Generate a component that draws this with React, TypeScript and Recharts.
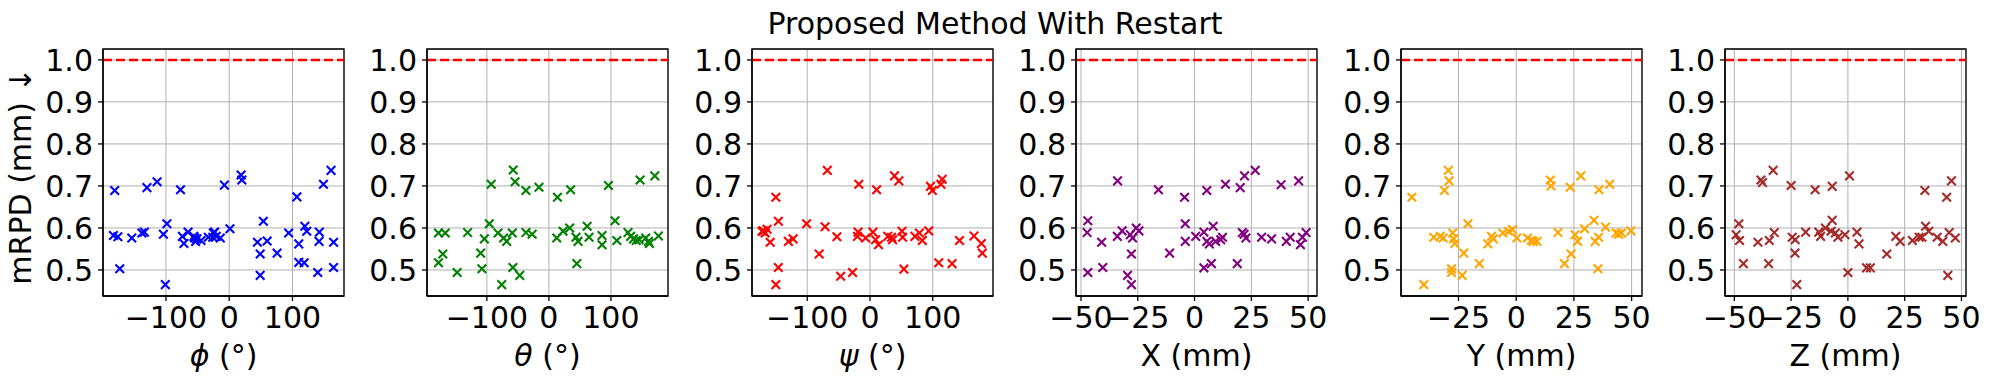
import React from "react";
import {
  ScatterChart,
  Scatter,
  XAxis,
  YAxis,
  CartesianGrid,
  ReferenceLine,
  ReferenceArea,
} from "recharts";

// mRPD (mm) against each pose parameter
const phiX = [-183, -176, -181, -173, -154, -138, -134, -130, -114, -104, -98.5, -101, -77, -74, -71.6, -65, -56, -54.5, -53, -51, -44.6, -33, -26, -25, -23, -20.5, -14, -7.6, 1.2, 18.8, 20, 44.6, 49, 49, 54, 60, 75.7, 94, 107, 110, 110, 118.5, 119.6, 122.6, 140, 142.5, 142, 149, 161, 165, 165];
const phiY = [0.582, 0.579, 0.689, 0.503, 0.576, 0.588, 0.59, 0.696, 0.71, 0.585, 0.61, 0.465, 0.691, 0.58, 0.563, 0.59, 0.58, 0.576, 0.568, 0.574, 0.57, 0.578, 0.578, 0.588, 0.59, 0.58, 0.576, 0.702, 0.598, 0.726, 0.714, 0.566, 0.538, 0.487, 0.616, 0.569, 0.54, 0.588, 0.674, 0.562, 0.518, 0.517, 0.604, 0.592, 0.494, 0.59, 0.568, 0.704, 0.737, 0.566, 0.506];

const thetaX = [-178, -167, -178, -171, -148, -131, -110, -108, -104, -96, -93, -82, -76, -73, -68, -59, -57.5, -54.5, -58, -47, -37, -37, -27, -16, 12.6, 13.8, 22.8, 33.5, 35, 43.7, 47, 45, 61.7, 64.7, 85.6, 85.6, 96, 106.6, 109.6, 127.5, 131.7, 136.5, 140.7, 145.5, 147, 156, 160.5, 162, 170.7, 176.6];
const thetaY = [0.588, 0.588, 0.517, 0.538, 0.494, 0.589, 0.54, 0.503, 0.574, 0.61, 0.704, 0.588, 0.465, 0.576, 0.568, 0.588, 0.738, 0.71, 0.506, 0.487, 0.689, 0.589, 0.585, 0.697, 0.576, 0.673, 0.592, 0.6, 0.691, 0.578, 0.568, 0.515, 0.604, 0.578, 0.582, 0.56, 0.701, 0.617, 0.57, 0.589, 0.58, 0.574, 0.57, 0.572, 0.714, 0.576, 0.568, 0.563, 0.724, 0.581];

const psiX = [-172, -170, -167, -164, -159, -150, -146, -146, -150, -130, -122.5, -101, -81, -71.6, -68, -52.7, -46.7, -27.8, -20, -19, -17.8, -7, 4.7, 8.9, 10.6, 13.6, 28.4, 34.3, 36, 39, 46, 51, 52, 54, 71.6, 78.7, 83.4, 93.5, 96.4, 99.4, 113, 115, 109.5, 130.8, 142.6, 165.7, 177.5, 179];
const psiY = [0.592, 0.593, 0.588, 0.597, 0.566, 0.673, 0.616, 0.506, 0.465, 0.568, 0.574, 0.61, 0.538, 0.603, 0.737, 0.579, 0.485, 0.494, 0.58, 0.59, 0.704, 0.576, 0.59, 0.572, 0.691, 0.56, 0.58, 0.578, 0.572, 0.724, 0.712, 0.592, 0.578, 0.502, 0.58, 0.588, 0.57, 0.593, 0.699, 0.689, 0.704, 0.716, 0.517, 0.515, 0.57, 0.581, 0.563, 0.54];

const posXX = [-47, -47.3, -47, -40.9, -40.4, -33.9, -34, -31.9, -29.5, -27.8, -28.3, -27.3, -27.8, -25.7, -24.5, -15.9, -11, -4.4, -4.1, -4.1, 0.5, 4.1, 4.1, 5.4, 5.4, 6.5, 7.4, 8.2, 9.3, 11.5, 12.3, 13.6, 18.8, 20.1, 21, 22, 21.8, 22.6, 26.7, 29.5, 33.9, 38.1, 40.4, 42.1, 45.8, 46.6, 47.5, 49.1];
const posXY = [0.617, 0.589, 0.494, 0.566, 0.506, 0.712, 0.58, 0.593, 0.487, 0.538, 0.584, 0.576, 0.465, 0.6, 0.593, 0.691, 0.54, 0.673, 0.61, 0.568, 0.58, 0.59, 0.505, 0.689, 0.568, 0.562, 0.515, 0.604, 0.568, 0.572, 0.578, 0.704, 0.515, 0.696, 0.589, 0.724, 0.585, 0.576, 0.737, 0.578, 0.574, 0.703, 0.568, 0.578, 0.712, 0.56, 0.578, 0.589];

const posYX = [-45.2, -40, -35.7, -32.9, -31.6, -31.1, -29.4, -29.1, -27.5, -27.1, -26.6, -28, -28, -22.7, -23.4, -20.9, -16, -12.3, -10.7, -9.9, -5.8, -3.3, -1.6, 0.3, 4.9, 6.6, 7.4, 9, 14.8, 15.1, 18.1, 20.9, 23.4, 23.8, 25.5, 26.6, 28, 29.6, 33.7, 34.2, 35.4, 35.7, 35.9, 38.7, 40.5, 43.3, 44.4, 45.6, 49.7];
const posYY = [0.673, 0.465, 0.578, 0.58, 0.576, 0.689, 0.737, 0.712, 0.588, 0.574, 0.563, 0.503, 0.494, 0.54, 0.487, 0.61, 0.515, 0.562, 0.58, 0.574, 0.588, 0.592, 0.596, 0.576, 0.576, 0.57, 0.568, 0.568, 0.714, 0.7, 0.589, 0.515, 0.697, 0.538, 0.584, 0.568, 0.724, 0.598, 0.618, 0.568, 0.503, 0.578, 0.691, 0.602, 0.704, 0.588, 0.585, 0.588, 0.593];

const posZX = [-49.2, -48, -47.7, -46, -39.6, -38.3, -37.6, -34.9, -34.6, -32.9, -32.4, -25, -24.5, -23.2, -23.3, -22.5, -18.6, -14.4, -12.8, -12, -9.9, -7.4, -6.9, -6.9, -5.5, -4.4, -1.3, 0, 0.7, 4, 4.9, 8.2, 9.9, 17.1, 21.1, 23, 28.4, 31.4, 32.6, 33.9, 34.2, 35.6, 39.3, 41.8, 43.5, 44, 44.6, 45.6, 47.3];
const posZY = [0.584, 0.61, 0.57, 0.515, 0.566, 0.714, 0.708, 0.515, 0.57, 0.737, 0.589, 0.701, 0.578, 0.572, 0.54, 0.465, 0.59, 0.691, 0.59, 0.58, 0.6, 0.592, 0.618, 0.699, 0.588, 0.578, 0.584, 0.494, 0.724, 0.59, 0.562, 0.505, 0.505, 0.538, 0.58, 0.568, 0.57, 0.578, 0.578, 0.689, 0.604, 0.592, 0.578, 0.568, 0.673, 0.487, 0.589, 0.712, 0.576];

const yTicks = [0.5, 0.6, 0.7, 0.8, 0.9, 1.0];
const angleTicks = [-100, 0, 100];
const mmTicks = [-50, -25, 0, 25, 50];
const mmTicksNoLeft = [-25, 0, 25, 50];

const FONT = "'DejaVu Sans', sans-serif";
const Y_DOMAIN: [number, number] = [0.438, 1.026];
const Y_AXIS_W = 80;
const PLOT_W = 241;
const RIGHT_PAD = 30;

type Panel = {
  sym?: string;
  name?: string;
  unit: string;
  xs: number[];
  ys: number[];
  color: string;
  domain: [number, number];
  ticks: number[];
  left: number;
};

const panels: Panel[] = [
  { sym: "\u03d5", unit: "(°)", xs: phiX, ys: phiY, color: "#0000ff", domain: [-199.5, 181.5], ticks: angleTicks, left: 103 },
  { sym: "\u03b8", unit: "(°)", xs: thetaX, ys: thetaY, color: "#008000", domain: [-196.5, 192], ticks: angleTicks, left: 427 },
  { sym: "\u03c8", unit: "(°)", xs: psiX, ys: psiY, color: "#ff0000", domain: [-188, 196], ticks: angleTicks, left: 752 },
  { name: "X", unit: "(mm)", xs: posXX, ys: posXY, color: "#800080", domain: [-52.2, 53.9], ticks: mmTicks, left: 1076 },
  { name: "Y", unit: "(mm)", xs: posYX, ys: posYY, color: "#ffa500", domain: [-49.9, 54.5], ticks: mmTicksNoLeft, left: 1401 },
  { name: "Z", unit: "(mm)", xs: posZX, ys: posZY, color: "#a52a2a", domain: [-54.1, 52], ticks: mmTicks, left: 1725 },
];

const fmtMinus = (v: number) => String(v).replace("-", "\u2212");

function Cross(props: any) {
  const { cx, cy, fill } = props;
  if (cx == null || cy == null) return null;
  const r = 4.3;
  return (
    <path
      d={`M${cx - r},${cy - r}L${cx + r},${cy + r}M${cx - r},${cy + r}L${cx + r},${cy - r}`}
      stroke={fill}
      strokeWidth={2.1}
      fill="none"
    />
  );
}

function XLabel(props: any) {
  const { viewBox, panel } = props;
  if (!viewBox) return null;
  const x = viewBox.x + viewBox.width / 2;
  const y = viewBox.y + 70;
  return (
    <text x={x} y={y} textAnchor="middle" fontSize={30} fontFamily={FONT} fill="#000">
      {panel.sym ? <tspan fontStyle="italic">{panel.sym}</tspan> : panel.name}
      {" " + panel.unit}
    </text>
  );
}

function PanelChart({ p }: { p: Panel }) {
  const data = p.xs.map((x, i) => ({ x, y: p.ys[i] }));
  const tickStyle = { fill: "#000", fontSize: 30, fontFamily: FONT };
  return (
    <div style={{ position: "absolute", left: p.left - Y_AXIS_W, top: 0 }}>
      <ScatterChart
        width={Y_AXIS_W + PLOT_W + RIGHT_PAD}
        height={385}
        margin={{ top: 49, right: RIGHT_PAD, bottom: 0, left: 0 }}
      >
        <CartesianGrid stroke="#b0b0b0" strokeWidth={1} />
        <XAxis
          type="number"
          dataKey="x"
          domain={p.domain}
          ticks={p.ticks}
          interval={0}
          allowDataOverflow
          height={89}
          tickSize={5}
          tickMargin={6}
          tick={tickStyle}
          tickFormatter={fmtMinus}
          axisLine={{ stroke: "#000", strokeWidth: 1.3 }}
          tickLine={{ stroke: "#000", strokeWidth: 1.3 }}
          label={<XLabel panel={p} />}
        />
        <YAxis
          type="number"
          dataKey="y"
          domain={Y_DOMAIN}
          ticks={yTicks}
          interval={0}
          allowDataOverflow
          width={Y_AXIS_W}
          tickSize={5}
          tickMargin={5}
          tick={tickStyle}
          tickFormatter={(v: number) => v.toFixed(1)}
          axisLine={{ stroke: "#000", strokeWidth: 1.3 }}
          tickLine={{ stroke: "#000", strokeWidth: 1.3 }}
        />
        <ReferenceArea
          x1={p.domain[0]}
          x2={p.domain[1]}
          y1={Y_DOMAIN[0]}
          y2={Y_DOMAIN[1]}
          fill="none"
          fillOpacity={0}
          stroke="#000"
          strokeWidth={1.3}
          ifOverflow="visible"
        />
        <ReferenceLine y={1} stroke="#ff0000" strokeDasharray="9 4" strokeWidth={2.5} />
        <Scatter data={data} fill={p.color} shape={(s: any) => <Cross {...s} />} isAnimationActive={false} />
      </ScatterChart>
    </div>
  );
}

export default function App() {
  return (
    <div
      style={{
        position: "absolute",
        left: 0,
        top: 0,
        width: 1989,
        height: 385,
        background: "#fff",
        fontFamily: FONT,
        overflow: "hidden",
      }}
    >
      <svg width={1989} height={385} style={{ position: "absolute", left: 0, top: 0 }}>
        <text x={995} y={34} textAnchor="middle" fontSize={30} fontFamily={FONT} fill="#000">
          Proposed Method With Restart
        </text>
        <text
          transform="translate(31,176) rotate(-90)"
          textAnchor="middle"
          fontSize={30}
          fontFamily={FONT}
          fill="#000"
        >
          mRPD (mm) ↓
        </text>
      </svg>
      {panels.map((p, i) => (
        <PanelChart key={i} p={p} />
      ))}
    </div>
  );
}
